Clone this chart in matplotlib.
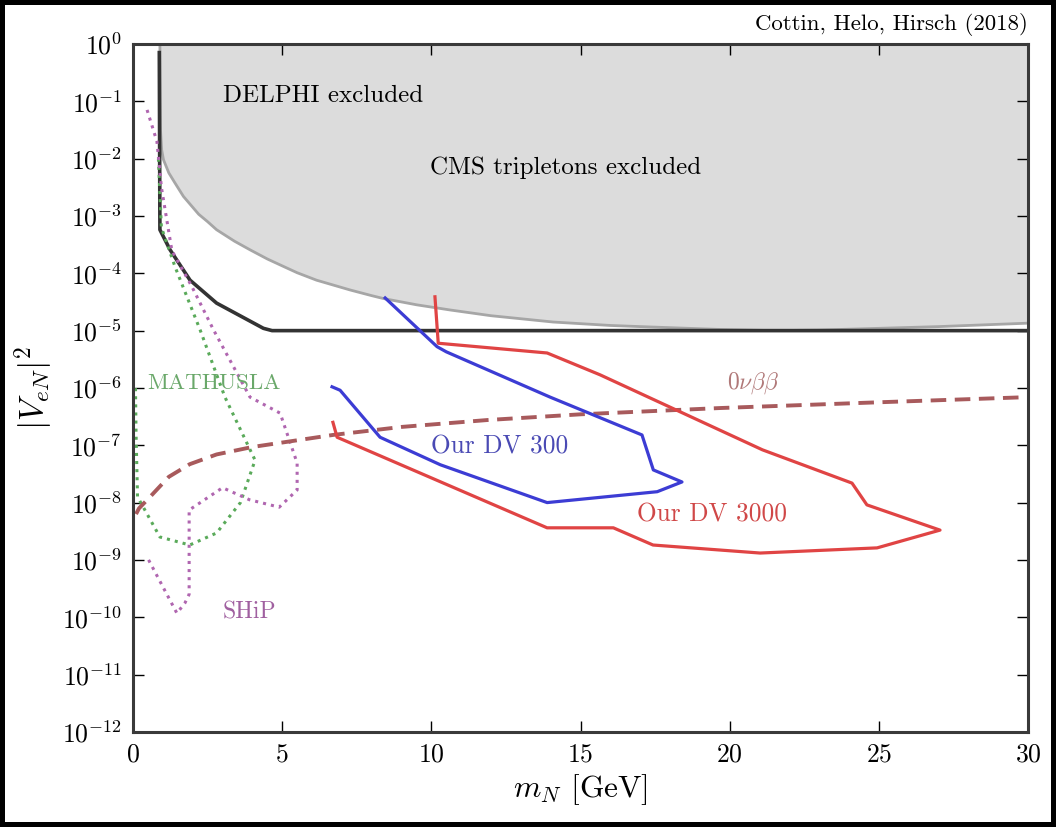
import numpy as np
import matplotlib
matplotlib.use('Agg')
import matplotlib.pyplot as plt

plt.rcParams['font.family'] = 'serif'
plt.rcParams['font.serif'] = ['cmr10']
plt.rcParams['mathtext.fontset'] = 'cm'
plt.rcParams['axes.formatter.use_mathtext'] = True

# curves: mass in GeV, log10 |V_eN|^2
cms_m = [0.9, 0.92, 0.96, 1.02, 1.2, 1.4, 1.69, 2.2, 2.5, 2.80, 3.4, 3.92, 4.5, 5.04, 5.5, 6.15,
         7.27, 8.0, 8.39, 9.51, 10.63, 12.0, 14.08, 16.0, 17.0, 19.7, 21.5, 23.0, 25.0, 27.0, 30.0]
cms_v = [0.0, -1.5, -1.85, -2.02, -2.25, -2.42, -2.66, -2.97, -3.1, -3.24, -3.44, -3.59, -3.75,
         -3.88, -3.99, -4.12, -4.29, -4.39, -4.44, -4.55, -4.64, -4.74, -4.85, -4.91, -4.93,
         -4.98, -5.0, -4.99, -4.96, -4.93, -4.87]

delphi_m = [0.88, 0.9, 1.24, 1.91, 2.8, 4.37, 4.66, 30.0]
delphi_v = [-0.15, -3.24, -3.59, -4.12, -4.52, -4.96, -5.0, -5.0]

mathusla_m = [0.85, 0.95, 1.41, 2.25, 3.08, 4.09, 3.6, 2.8, 1.9, 0.9, 0.15, 0.1, 0.08]
mathusla_v = [-2.0, -3.2, -3.89, -4.99, -6.16, -7.26, -8.0, -8.53, -8.74, -8.6, -7.9, -6.8, -5.95]

ship_m = [0.47, 0.8, 0.95, 1.3, 1.98, 2.7, 3.92, 4.93, 5.5, 5.5, 4.9, 3.9, 3.0, 1.88, 1.88, 1.74, 1.47, 0.47]
ship_v = [-1.15, -1.7, -2.5, -3.6, -4.24, -4.99, -6.16, -6.44, -7.31, -7.78, -8.08, -7.95, -7.74, -8.13, -9.6, -9.75, -9.93, -8.95]

onbb_m = [0.1, 0.2, 0.57, 1.2, 1.9, 2.8, 4.0, 6.7, 9.0, 11.87, 15.0, 19.7, 25.0, 30.0]
onbb_v = [-8.2, -8.1, -7.9, -7.55, -7.33, -7.16, -7.03, -6.82, -6.68, -6.56, -6.46, -6.35, -6.25, -6.16]

dv300_m = [8.45, 10.19, 10.5, 13.98, 17.06, 17.44, 18.4, 17.57, 13.88, 10.3, 8.28, 6.94, 6.67]
dv300_v = [-4.43, -5.28, -5.37, -6.16, -6.82, -7.43, -7.64, -7.81, -8.0, -7.34, -6.86, -6.04, -5.98]

dv3000_m = [10.12, 10.23, 13.88, 15.65, 21.1, 24.1, 24.6, 27.05, 24.94, 21.02, 17.43, 16.1, 13.88, 6.84, 6.7]
dv3000_v = [-4.41, -5.22, -5.39, -5.77, -7.08, -7.66, -8.04, -8.48, -8.79, -8.88, -8.74, -8.44, -8.44, -6.86, -6.6]

fig = plt.figure(figsize=(10.56, 8.27), dpi=100)
fig.patch.set_edgecolor('black')
fig.patch.set_linewidth(6)
ax = fig.add_axes([0.126, 0.115, 0.8475, 0.8318])

cms_y = np.power(10.0, cms_v)
ax.fill_between(cms_m, cms_y, 1.0, color='#dcdcdc', lw=0)
ax.plot(cms_m, cms_y, color='#a6a6a6', lw=2)
ax.plot(delphi_m, np.power(10.0, delphi_v), color='#333333', lw=2.6)
ax.plot(mathusla_m, np.power(10.0, mathusla_v), color='#5aaa5a', lw=2.2, ls=':')
ax.plot(ship_m, np.power(10.0, ship_v), color='#b066b0', lw=2.2, ls=':')
ax.plot(onbb_m, np.power(10.0, onbb_v), color='#a85a5c', lw=2.8, ls=(0, (4, 2.2)))
ax.plot(dv300_m, np.power(10.0, dv300_v), color='#3c3cd4', lw=2.3)
ax.plot(dv3000_m, np.power(10.0, dv3000_v), color='#e04444', lw=2.3)

ax.text(3.0, 10**-0.9, 'DELPHI excluded', fontsize=18, va='center')
ax.text(14.5, 10**-2.16, 'CMS tripletons excluded', fontsize=18, va='center', ha='center')
ax.text(0.47, 10**-5.91, 'MATHUSLA', fontsize=16.5, color='#6aa86a', va='center')
ax.text(3.0, 10**-9.92, 'SHiP', fontsize=17, color='#a060a0', va='center')
ax.text(19.9, 10**-5.91, r'$0\nu\beta\beta$', fontsize=17, color='#b07878', va='center')
ax.text(10.0, 10**-7.03, 'Our DV 300', fontsize=18.3, color='#4a4ab4', va='center')
ax.text(16.9, 10**-8.21, 'Our DV 3000', fontsize=18.3, color='#d04848', va='center')
ax.text(1.0, 1.012, 'Cottin, Helo, Hirsch (2018)', transform=ax.transAxes,
        ha='right', va='bottom', fontsize=16.5)

ax.set_yscale('log')
ax.set_xlim(0, 30)
ax.set_ylim(1e-12, 1)
ax.set_yticks([10.0**k for k in range(-12, 1)])
ax.yaxis.set_minor_locator(matplotlib.ticker.NullLocator())
ax.set_xticks([0, 5, 10, 15, 20, 25, 30])
ax.tick_params(direction='in', top=True, right=True, length=8, width=1, labelsize=18.5, pad=8)
for s in ax.spines.values():
    s.set_linewidth(2.2)
    s.set_color('#3a3a3a')
ax.set_xlabel(r'$m_N$ [GeV]', fontsize=22.5)
ax.set_ylabel(r'$|V_{eN}|^2$', fontsize=24)

fig.savefig('out.png', dpi=100, edgecolor=fig.get_edgecolor())
